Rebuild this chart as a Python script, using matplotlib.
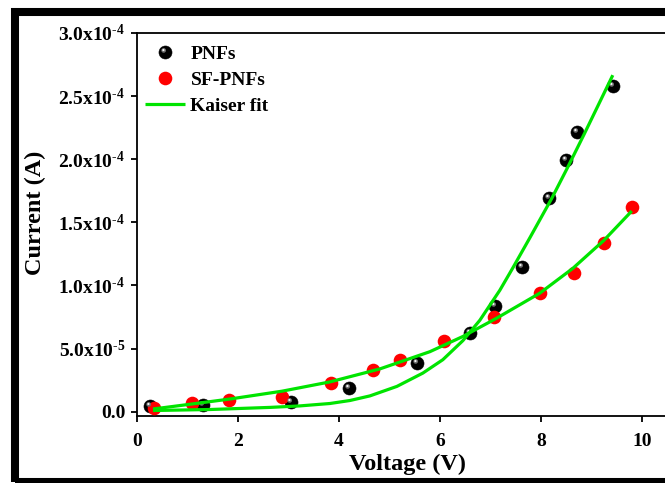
import matplotlib
matplotlib.use("Agg")
import matplotlib.pyplot as plt
from matplotlib.path import Path
from matplotlib.patches import Rectangle
from matplotlib.legend_handler import HandlerTuple

plt.rcParams['font.family'] = ['Liberation Serif', 'DejaVu Serif']
plt.rcParams['font.weight'] = 'bold'
plt.rcParams['mathtext.fontset'] = 'custom'
plt.rcParams['mathtext.rm'] = 'Liberation Serif:bold'
plt.rcParams['mathtext.bf'] = 'Liberation Serif:bold'
plt.rcParams['mathtext.it'] = 'Liberation Serif:bold:italic'

# Measured I-V data
pnf_v = [0.26, 1.31, 3.05, 4.20, 5.54, 6.59, 7.09, 7.63, 8.16, 8.49, 8.71, 9.43]
pnf_i = [0.045e-4, 0.053e-4, 0.079e-4, 0.19e-4, 0.386e-4, 0.626e-4,
         0.837e-4, 1.149e-4, 1.69e-4, 1.99e-4, 2.214e-4, 2.583e-4]

sf_v = [0.34, 1.08, 1.83, 2.87, 3.85, 4.67, 5.22, 6.09, 7.08, 7.98, 8.65, 9.25, 9.80]
sf_i = [0.027e-4, 0.066e-4, 0.093e-4, 0.119e-4, 0.225e-4, 0.33e-4, 0.41e-4,
        0.563e-4, 0.753e-4, 0.938e-4, 1.097e-4, 1.339e-4, 1.62e-4]

# Kaiser model curves
pnf_fit_v = [0.317, 1.446, 2.634, 3.228, 3.822, 4.218, 4.614, 5.149, 5.663,
             6.059, 6.455, 6.792, 7.188, 7.446, 7.782, 8.218, 8.535, 8.851, 9.426]
pnf_fit_i = [0.0095e-4, 0.0174e-4, 0.0341e-4, 0.046e-4, 0.065e-4, 0.0887e-4,
             0.1252e-4, 0.2005e-4, 0.3059e-4, 0.412e-4, 0.5626e-4, 0.7243e-4,
             0.962e-4, 1.1395e-4, 1.377e-4, 1.691e-4, 1.938e-4, 2.192e-4,
             2.666e-4]

sf_fit_v = [0.317, 1.089, 1.842, 2.871, 3.822, 4.812, 5.802, 6.455, 7.129,
            7.980, 8.634, 9.248, 9.802]
sf_fit_i = [0.0214e-4, 0.061e-4, 0.1006e-4, 0.1624e-4, 0.2361e-4, 0.3391e-4,
            0.4754e-4, 0.5959e-4, 0.7417e-4, 0.939e-4, 1.1355e-4, 1.3566e-4,
            1.5895e-4]

x_ticks = [0, 2, 4, 6, 8, 10]
y_ticks = [0.0, 0.5e-4, 1.0e-4, 1.5e-4, 2.0e-4, 2.5e-4, 3.0e-4]
y_tick_labels = ['0.0', r'5.0x10$^{\text{-}5}$', r'1.0x10$^{\text{-}4}$',
                 r'1.5x10$^{\text{-}4}$', r'2.0x10$^{\text{-}4}$',
                 r'2.5x10$^{\text{-}4}$', r'3.0x10$^{\text{-}4}$']

W, H = 665, 483
fig = plt.figure(figsize=(W / 100, H / 100), dpi=100)
ax = fig.add_axes([137 / W, 1 - 416 / H, 530 / W, 383 / H])


def spot(cx, cy, r):
    """Circle path placed off-centre inside the unit marker box."""
    box = Path([(-1, -1), (1, 1)], [Path.MOVETO, Path.MOVETO])
    return Path.make_compound_path(box, Path.circle((cx, cy), r))


ball_ms = 9.4
ball, = ax.plot(pnf_v, pnf_i, ls='none', marker='o', ms=ball_ms,
                mfc='black', mec='black', mew=0.4, zorder=3, label='PNFs')
shade, = ax.plot(pnf_v, pnf_i, ls='none', marker=spot(-0.28, 0.32, 0.36),
                 ms=ball_ms, mfc='#6e6e6e', mew=0, zorder=3.1)
gloss, = ax.plot(pnf_v, pnf_i, ls='none', marker=spot(-0.32, 0.38, 0.17),
                 ms=ball_ms, mfc='#f2f2f2', mew=0, zorder=3.2)

red, = ax.plot(sf_v, sf_i, ls='none', marker='o', ms=9.8,
               mfc='#ff0000', mec='#ff0000', mew=0, zorder=3, label='SF-PNFs')

green = '#00e400'
fit, = ax.plot(pnf_fit_v, pnf_fit_i, color=green, lw=2.3, zorder=4,
               solid_capstyle='butt', solid_joinstyle='round', label='Kaiser fit')
ax.plot(sf_fit_v, sf_fit_i, color=green, lw=2.3, zorder=4,
        solid_capstyle='butt', solid_joinstyle='round')

ax.set_xlim(0, 10.5)
ax.set_ylim(-0.034e-4, 3.0e-4)
ax.set_xticks(x_ticks)
ax.set_xticklabels([str(t) for t in x_ticks])
ax.set_yticks(y_ticks)
ax.set_yticklabels(y_tick_labels)

for s in ax.spines.values():
    s.set_linewidth(1.3)
ax.tick_params(direction='out', length=4.5, width=1.3, labelsize=14, pad=4)
ax.tick_params(axis='x', pad=7.5)

ax.set_xlabel('Voltage (V)', fontsize=17.5, fontweight='bold')
ax.set_ylabel('Current (A)', fontsize=17.5, fontweight='bold')
ax.xaxis.set_label_coords(0.51, -0.1)
ax.yaxis.set_label_coords(-0.172, 0.53)

leg = ax.legend([(ball, shade, gloss), red, fit],
                ['PNFs', 'SF-PNFs', 'Kaiser fit'],
                handler_map={tuple: HandlerTuple(ndivide=1)},
                loc='upper left', bbox_to_anchor=(8 / 530, 0.967),
                frameon=False, fontsize=14, handlelength=2.06,
                handletextpad=0.28, labelspacing=0.43, borderpad=0,
                borderaxespad=0)

# heavy outer frame
fig.patches.append(Rectangle((15 / W, 1 / H), 1.0, 470 / H,
                             transform=fig.transFigure, fill=False,
                             edgecolor='black', linewidth=5.8,
                             clip_on=False))

fig.savefig('out.png', dpi=100)
